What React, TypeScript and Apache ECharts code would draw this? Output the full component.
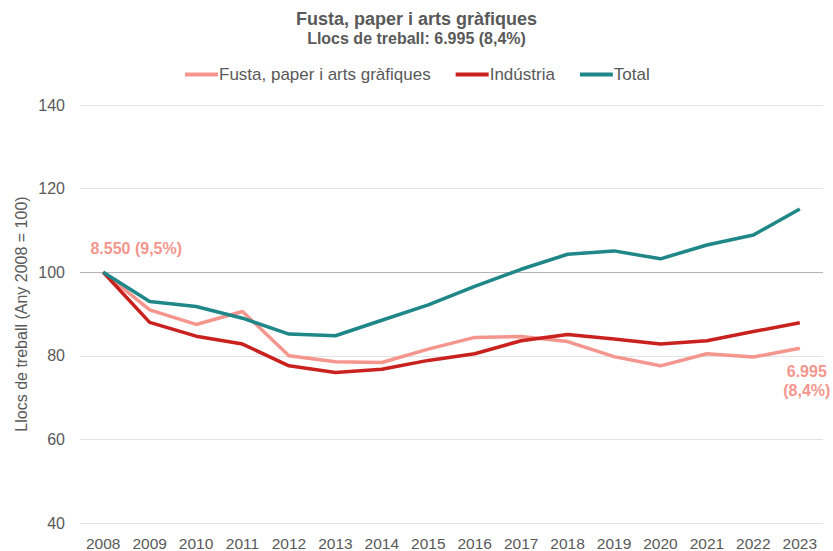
import React, { useEffect, useRef } from "react";
import * as echarts from "echarts";

const years = ["2008","2009","2010","2011","2012","2013","2014","2015","2016","2017","2018","2019","2020","2021","2022","2023"];
const fusta = [100, 91.0, 87.5, 90.6, 80.0, 78.6, 78.4, 81.6, 84.4, 84.6, 83.4, 79.8, 77.6, 80.5, 79.7, 81.8];
const industria = [100, 88.0, 84.7, 82.8, 77.6, 76.0, 76.8, 78.9, 80.5, 83.6, 85.1, 84.0, 82.8, 83.6, 85.8, 87.9];
const total = [100, 93.0, 91.8, 89.0, 85.2, 84.8, 88.5, 92.2, 96.6, 100.7, 104.3, 105.1, 103.2, 106.5, 108.9, 115.1];
const yTicks = [40, 60, 80, 100, 120, 140];
const firstLabel = "8.550 (9,5%)";
const lastLabel = "6.995\n(8,4%)";

const FONT = "'Liberation Sans', Arial, sans-serif";
const GREY = "#595959";
const PINK = "#F4968D";
const RED = "#C9211E";
const TEAL = "#1F8787";

export default function App() {
  const ref = useRef<HTMLDivElement>(null);
  useEffect(() => {
    const chart = echarts.init(ref.current!, undefined, { renderer: "svg" });
    const fustaData = fusta.map((v, i) => {
      if (i === 0) {
        return {
          value: v,
          label: {
            show: true, formatter: firstLabel, position: "top", offset: [33, -10],
            color: PINK, fontWeight: "bold", fontSize: 16, fontFamily: FONT,
          },
        };
      }
      if (i === fusta.length - 1) {
        return {
          value: v,
          label: {
            show: true, formatter: lastLabel, position: "bottom", offset: [7, 8],
            align: "center", lineHeight: 19,
            color: PINK, fontWeight: "bold", fontSize: 16, fontFamily: FONT,
          },
        };
      }
      return v;
    });
    const gridColors = yTicks.map((t) => (t === 100 ? "#b3b3b3" : "#e3e3e3"));
    chart.setOption({
      animation: false,
      textStyle: { fontFamily: FONT },
      title: {
        text: "Fusta, paper i arts gràfiques",
        subtext: "Llocs de treball: 6.995 (8,4%)",
        left: "center",
        top: 5,
        itemGap: 2,
        textStyle: { fontFamily: FONT, fontSize: 18, fontWeight: "bold", color: GREY },
        subtextStyle: { fontFamily: FONT, fontSize: 16, fontWeight: "bold", color: GREY },
      },
      legend: {
        top: 61,
        left: 180,
        itemWidth: 33,
        itemHeight: 4,
        itemGap: 25,
        icon: "rect",
        textStyle: { fontFamily: FONT, fontSize: 17, color: GREY, padding: [0, 0, 0, -4] },
        data: ["Fusta, paper i arts gràfiques", "Indústria", "Total"],
      },
      grid: { left: 80, right: 10, top: 105, bottom: 28 },
      xAxis: {
        type: "category",
        data: years,
        boundaryGap: true,
        axisLine: { show: false },
        axisTick: { show: false },
        axisLabel: { color: GREY, fontSize: 15.5, fontFamily: FONT, margin: 12, interval: 0 },
      },
      yAxis: {
        type: "value",
        min: 40,
        max: 140,
        interval: 20,
        name: "Llocs de treball (Any 2008 = 100)",
        nameLocation: "middle",
        nameGap: 51,
        nameMoveOverlap: false,
        nameTextStyle: { color: GREY, fontSize: 16, fontFamily: FONT },
        axisLine: { show: false },
        axisTick: { show: false },
        axisLabel: { color: GREY, fontSize: 16, fontFamily: FONT, margin: 15 },
        splitLine: { lineStyle: { color: gridColors, width: 1 } },
      },
      series: [
        {
          name: "Fusta, paper i arts gràfiques",
          type: "line",
          data: fustaData,
          symbol: "circle",
          symbolSize: 1,
          showSymbol: true,
          z: 3,
          lineStyle: { color: PINK, width: 3.5 },
          itemStyle: { color: PINK },
        },
        {
          name: "Indústria",
          type: "line",
          data: industria,
          showSymbol: false,
          symbol: "none",
          z: 4,
          lineStyle: { color: RED, width: 3.5 },
          itemStyle: { color: RED },
        },
        {
          name: "Total",
          type: "line",
          data: total,
          showSymbol: false,
          symbol: "none",
          z: 5,
          lineStyle: { color: TEAL, width: 3.5 },
          itemStyle: { color: TEAL },
        },
      ],
    });
    return () => chart.dispose();
  }, []);
  return <div ref={ref} style={{ width: 833, height: 551, position: "absolute", left: 0, top: 0 }} />;
}
